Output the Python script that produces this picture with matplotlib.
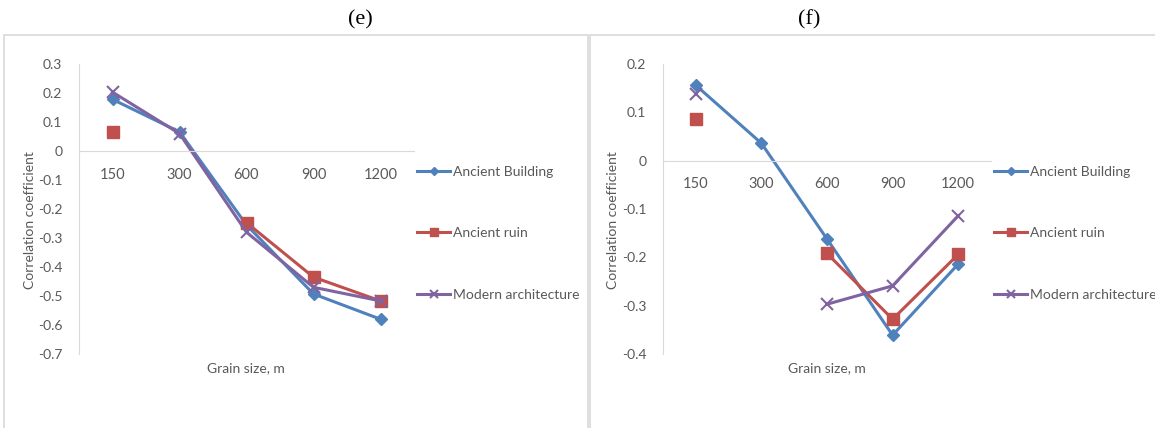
import numpy as np
import matplotlib
matplotlib.use("Agg")
import matplotlib.pyplot as plt
from matplotlib.patches import Rectangle

# Category axis (grain size) and correlation values per land-use class
grain_sizes = ["150", "300", "600", "900", "1200"]

e_ancient_building = [0.178, 0.066, -0.255, -0.493, -0.580]
e_ancient_ruin = [0.066, np.nan, -0.247, -0.435, -0.517]
e_modern_arch = [0.203, 0.060, -0.280, -0.470, -0.517]

f_ancient_building = [0.156, 0.036, -0.162, -0.361, -0.214]
f_ancient_ruin = [0.086, np.nan, -0.192, -0.328, -0.194]
f_modern_arch = [0.137, np.nan, -0.297, -0.259, -0.114]

series_names = ["Ancient Building", "Ancient ruin", "Modern architecture"]

W, H = 1155, 428
plt.rcParams["font.family"] = ["Lato", "DejaVu Sans"]
fig = plt.figure(figsize=(W / 100, H / 100), dpi=100)

TEXT = "#595959"
GRID = "#D9D9D9"
COLORS = ["#4F81BD", "#C0504D", "#8064A2"]


def px_axes(x0, x1, y_top, y_bot):
    return fig.add_axes([x0 / W, 1 - y_bot / H, (x1 - x0) / W, (y_bot - y_top) / H])


def fmt(v):
    v = round(float(v), 1) + 0.0
    return "0" if v == 0 else f"{v:g}"


def panel(ax, data, ylim, yticks, legend_x):
    x = np.arange(len(grain_sizes))
    styles = [
        dict(marker="D", markersize=6.5),
        dict(marker="s", markersize=8),
        dict(marker="x", markersize=8, markeredgewidth=1.5),
    ]
    for vals, name, c, st in zip(data, series_names, COLORS, styles):
        ax.plot(x, vals, color=c, lw=2.2, label=name, markerfacecolor=c,
                markeredgecolor=c, clip_on=False, **st)
    ax.set_xlim(-0.5, len(grain_sizes) - 0.5)
    ax.set_ylim(*ylim)
    ax.set_yticks(yticks)
    ax.set_yticklabels([fmt(v) for v in yticks])
    ax.set_xticks(x)
    ax.set_xticklabels(grain_sizes)
    for s in ["top", "right"]:
        ax.spines[s].set_visible(False)
    ax.spines["left"].set_color(GRID)
    ax.spines["bottom"].set_color(GRID)
    ax.spines["bottom"].set_position(("data", 0))
    ax.tick_params(axis="both", length=0, colors=TEXT, labelsize=10)
    ax.tick_params(axis="x", pad=12)
    ax.tick_params(axis="y", pad=12)
    for lab in ax.get_xticklabels():
        lab.set_fontsize(10.5)
    ax.patch.set_alpha(0)
    ax.legend(loc="upper left", bbox_to_anchor=(legend_x / W, 1 - 166 / H),
              bbox_transform=fig.transFigure, frameon=False, fontsize=10,
              labelcolor=TEXT, handlelength=2.4, handletextpad=0.2,
              labelspacing=3.55, markerscale=0.7, borderaxespad=0,
              borderpad=0)


# Panel borders
fig.patches.append(Rectangle((4 / W, -0.1), (588 - 4) / W, 1.1 - 35 / H,
                             transform=fig.transFigure, fill=False,
                             edgecolor=GRID, lw=1.2))
fig.patches.append(Rectangle((590 / W, -0.1), (1170 - 590) / W, 1.1 - 35 / H,
                             transform=fig.transFigure, fill=False,
                             edgecolor=GRID, lw=1.2))

ax_e = px_axes(79, 414, 64, 354)
panel(ax_e, [e_ancient_building, e_ancient_ruin, e_modern_arch],
      (-0.7, 0.3), np.round(np.arange(-0.7, 0.31, 0.1), 1), 417)

ax_f = px_axes(663, 991, 64, 354)
panel(ax_f, [f_ancient_building, f_ancient_ruin, f_modern_arch],
      (-0.4, 0.2), np.round(np.arange(-0.4, 0.21, 0.1), 1), 994)

# Axis titles and panel captions
for cx, lx in [(246, 30), (827, 613)]:
    fig.text(cx / W, 1 - 368 / H, "Grain size, m", color=TEXT, fontsize=10,
             ha="center", va="center")
    fig.text(lx / W, 1 - 220 / H, "Correlation coefficient", color=TEXT,
             fontsize=10, rotation=90, ha="center", va="center")

fig.text(360 / W, 1 - 20 / H, "(e)", fontsize=16, family="Liberation Serif",
         ha="center", va="center", color="black")
fig.text(809 / W, 1 - 20 / H, "(f)", fontsize=16, family="Liberation Serif",
         ha="center", va="center", color="black")

fig.savefig("out.png", dpi=100, facecolor="white")
